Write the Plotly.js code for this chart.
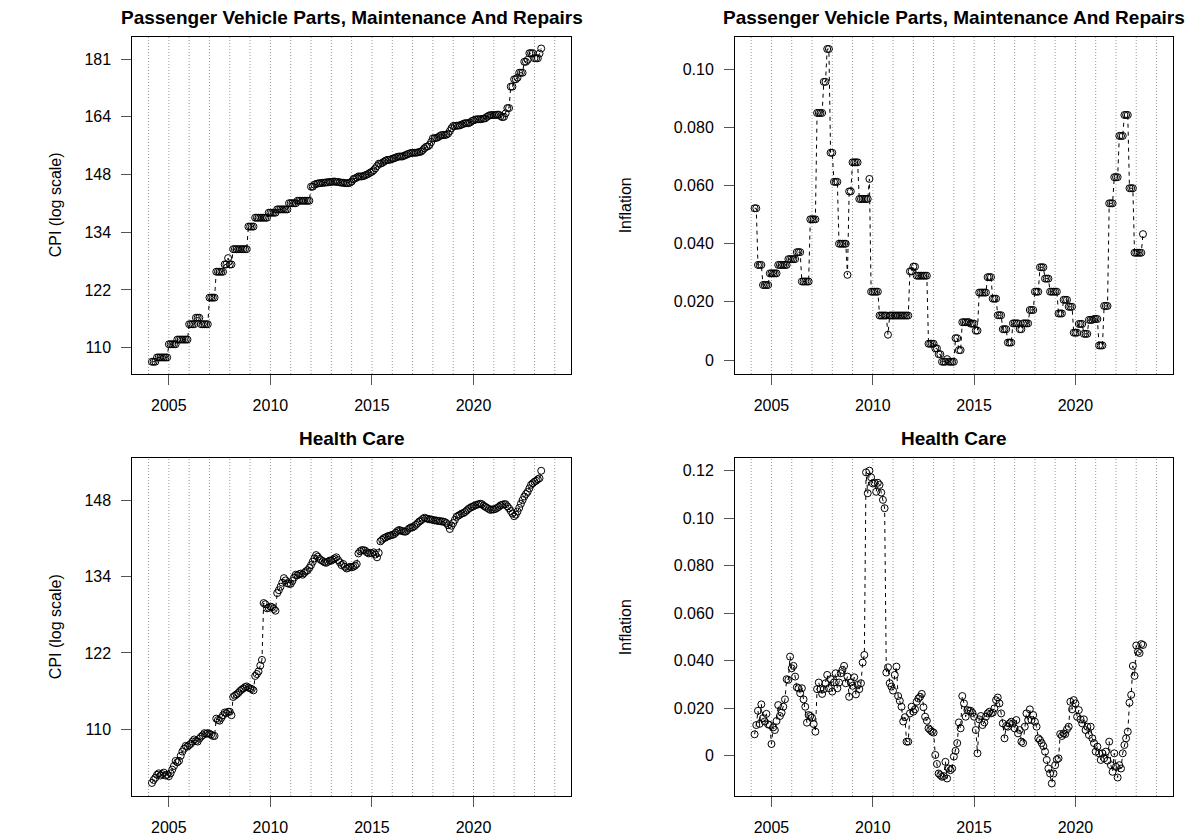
<!DOCTYPE html>
<html>
<head>
<meta charset="utf-8">
<script src="https://cdn.plot.ly/plotly-3.0.1.min.js"></script>
<style>html,body{margin:0;padding:0;background:#fff;}#chart{width:1199px;height:840px;}</style>
</head>
<body>
<div id="chart"></div>
<script>
// Monthly observations, March 2004 .. May 2023 (231 months)
const startYear = 2004, startMonth = 3, nMonths = 231;

const yearTicks = [2005, 2010, 2015, 2020];
const yearLines = [2004,2005,2006,2007,2008,2009,2010,2011,2012,2013,2014,2015,2016,2017,2018,2019,2020,2021,2022,2023,2024];

const titleVehicle = "Passenger Vehicle Parts, Maintenance And Repairs";
const titleHealth = "Health Care";
const cpiLabel = "CPI (log scale)";
const inflLabel = "Inflation";

// CPI tick values (log scale) and their labels
const vehCpiTickVals = [109.95, 121.51, 134.29, 148.41, 164.02, 181.27];
const vehCpiTickText = ["110", "122", "134", "148", "164", "181"];
const hcCpiTickVals = [109.95, 121.51, 134.29, 148.41];
const hcCpiTickText = ["110", "122", "134", "148"];
const vehInflTickVals = [0, 0.02, 0.04, 0.06, 0.08, 0.10];
const vehInflTickText = ["0", "0.020", "0.040", "0.060", "0.080", "0.10"];
const hcInflTickVals = [0, 0.02, 0.04, 0.06, 0.08, 0.10, 0.12];
const hcInflTickText = ["0", "0.020", "0.040", "0.060", "0.080", "0.10", "0.12"];

// Passenger vehicle parts, maintenance and repairs: CPI
const vehicleCPI = [
  107.3,107.3,107.3,108.1,108.1,108.1,108.1,108.1,108.1,108.1,
  110.6,110.6,110.6,110.6,110.6,111.5,111.5,111.5,111.5,111.5,111.5,111.5,
  114.5,114.5,114.5,114.5,115.8,115.8,115.8,114.5,114.5,114.5,114.5,114.5,
  119.9,119.9,119.9,119.9,125.4,125.4,125.4,125.4,125.4,127.0,127.0,128.4,
  127.0,127.0,130.4,130.4,130.4,130.4,130.4,130.4,130.4,130.4,130.4,135.6,
  135.6,135.6,135.6,137.7,137.7,137.7,137.7,137.7,137.7,137.7,137.7,138.9,
  138.9,138.9,138.9,138.9,139.7,139.7,139.7,139.7,139.7,139.7,139.7,141.2,
  141.2,141.2,141.2,141.2,141.8,141.8,141.8,141.8,141.8,141.8,141.8,141.8,
  145.3,145.3,145.8,146.0,146.1,146.2,146.2,146.3,146.3,146.4,146.4,146.5,
  146.5,146.6,146.6,146.5,146.5,146.4,146.3,146.3,146.2,146.2,146.2,146.3,
  146.6,147.2,147.4,147.6,147.9,147.9,147.9,148.0,148.2,148.4,148.6,148.9,
  149.1,149.5,150.0,150.6,151.2,151.2,151.4,151.7,152.0,152.2,152.2,152.3,
  152.5,152.6,152.8,153.0,153.1,153.1,153.1,153.3,153.5,153.7,153.9,154.0,
  154.1,154.1,154.1,154.2,154.3,154.4,154.8,155.3,155.7,155.8,156.2,157.0,
  158.0,158.0,158.1,158.3,158.6,158.9,158.9,158.9,159.0,159.3,160.0,160.8,
  161.4,161.4,161.5,161.5,161.6,161.8,162.0,162.2,162.2,162.2,162.4,162.8,
  163.0,163.2,163.3,163.3,163.3,163.4,163.5,163.6,164.0,164.3,164.5,164.5,
  164.5,164.5,164.6,164.6,164.2,163.9,164.0,165.0,166.5,166.5,172.8,172.8,
  175.0,175.0,175.5,177.0,177.0,177.0,180.4,180.4,181.0,183.1,183.1,183.1,
  181.5,181.5,181.5,183.0,184.6
];

// Passenger vehicle parts, maintenance and repairs: inflation
const vehicleInfl = [
  0.0522,0.0522,0.0327,0.0327,0.0327,0.0258,0.0258,0.0258,0.0258,0.0298,
  0.0298,0.0298,0.0298,0.0298,0.0327,0.0327,0.0327,0.0327,0.0327,0.0327,0.0347,0.0347,
  0.0347,0.0347,0.0347,0.0371,0.0371,0.0371,0.0270,0.0270,0.0270,0.0270,0.0270,0.0484,
  0.0484,0.0484,0.0484,0.0850,0.0850,0.0850,0.0850,0.0957,0.0957,0.1070,0.1070,0.0713,
  0.0713,0.0613,0.0613,0.0613,0.0400,0.0400,0.0400,0.0400,0.0400,0.0293,0.0580,0.0580,
  0.0680,0.0680,0.0680,0.0680,0.0554,0.0554,0.0554,0.0554,0.0554,0.0554,0.0623,0.0235,
  0.0235,0.0235,0.0235,0.0235,0.0153,0.0153,0.0153,0.0153,0.0153,0.0087,0.0153,0.0153,
  0.0153,0.0153,0.0153,0.0153,0.0153,0.0153,0.0153,0.0153,0.0153,0.0153,0.0305,0.0305,
  0.0321,0.0321,0.0290,0.0290,0.0290,0.0290,0.0290,0.0290,0.0290,0.0056,0.0056,0.0056,
  0.0056,0.0040,0.0040,0.0020,0.0020,-0.0006,-0.0006,-0.0006,0.0003,-0.0006,-0.0006,-0.0006,
  -0.0006,0.0075,0.0075,0.0034,0.0034,0.0130,0.0130,0.0130,0.0130,0.0130,0.0125,0.0125,
  0.0125,0.0101,0.0101,0.0232,0.0232,0.0232,0.0232,0.0232,0.0285,0.0285,0.0285,0.0211,
  0.0211,0.0211,0.0154,0.0154,0.0154,0.0106,0.0106,0.0106,0.0060,0.0060,0.0060,0.0126,
  0.0126,0.0126,0.0126,0.0106,0.0106,0.0126,0.0126,0.0126,0.0126,0.0172,0.0172,0.0172,
  0.0235,0.0235,0.0235,0.0319,0.0319,0.0319,0.0280,0.0280,0.0280,0.0235,0.0235,0.0235,
  0.0235,0.0235,0.0160,0.0160,0.0160,0.0207,0.0207,0.0207,0.0183,0.0183,0.0183,0.0094,
  0.0094,0.0094,0.0124,0.0124,0.0124,0.0090,0.0090,0.0090,0.0138,0.0138,0.0138,0.0141,
  0.0141,0.0141,0.0050,0.0050,0.0050,0.0186,0.0186,0.0186,0.0539,0.0539,0.0539,0.0629,
  0.0629,0.0629,0.0771,0.0771,0.0771,0.0843,0.0843,0.0843,0.0591,0.0591,0.0591,0.0369,
  0.0369,0.0369,0.0369,0.0369,0.0433
];

// Health care: CPI
const healthCPI = [
  102.5,102.9,103.2,103.6,103.8,103.5,103.7,103.9,103.5,103.6,
  103.4,103.8,104.3,104.8,105.5,105.3,105.5,106.2,106.8,107.2,107.6,107.5,
  107.7,107.9,108.2,108.5,108.3,108.2,108.6,108.9,109.1,109.4,109.3,109.4,
  109.3,109.2,109.0,109.0,111.5,111.3,111.2,111.6,112.0,112.4,112.3,112.5,
  112.5,112.0,114.7,114.9,115.1,115.3,115.6,115.8,116.0,116.2,116.3,116.1,
  116.0,115.9,115.7,117.9,118.2,118.6,119.5,120.4,129.7,129.5,128.8,128.9,
  129.1,129.0,128.7,128.4,131.4,131.9,132.5,133.2,134.0,133.6,133.1,133.0,
  133.0,133.5,134.1,134.6,134.5,134.7,134.8,134.6,134.9,135.2,135.4,135.8,
  136.3,136.9,137.5,138.1,137.8,137.4,137.2,137.0,136.8,136.7,136.9,137.1,
  137.1,137.3,137.5,137.7,137.2,136.8,136.3,136.5,136.0,135.7,135.8,136.0,
  135.9,136.0,136.2,136.5,138.4,138.8,139.0,139.0,138.9,138.6,138.4,138.5,
  138.4,138.6,138.2,137.7,138.5,140.6,140.9,141.2,141.3,141.5,141.6,141.7,
  141.8,141.9,142.2,142.5,142.7,142.6,142.5,142.4,142.4,142.7,143.0,143.2,
  143.2,143.4,143.7,144.0,144.3,144.5,144.8,145.0,144.9,144.8,144.7,144.7,
  144.6,144.5,144.5,144.4,144.4,144.3,144.3,144.2,144.0,143.6,142.9,143.5,
  144.0,144.6,145.2,145.4,145.6,145.8,145.9,146.1,146.4,146.7,146.9,147.1,
  147.2,147.4,147.5,147.6,147.7,147.6,147.3,147.1,146.9,146.7,146.5,146.6,
  146.6,146.7,146.9,147.1,147.4,147.5,147.6,147.6,147.2,146.8,146.3,145.8,
  145.3,145.6,146.2,146.9,147.7,148.4,149.1,149.6,150.0,150.7,151.4,151.7,
  152.0,152.2,152.5,152.7,154.2
];

// Health care: inflation
const healthInfl = [
  0.0090,0.0129,0.0189,0.0134,0.0216,0.0158,0.0144,0.0176,0.0132,0.0129,
  0.0049,0.0119,0.0108,0.0146,0.0213,0.0167,0.0181,0.0206,0.0237,0.0322,0.0319,0.0417,
  0.0368,0.0378,0.0333,0.0288,0.0284,0.0263,0.0284,0.0237,0.0206,0.0139,0.0171,0.0167,
  0.0160,0.0133,0.0101,0.0280,0.0308,0.0280,0.0260,0.0280,0.0305,0.0340,0.0284,0.0322,
  0.0270,0.0308,0.0347,0.0284,0.0308,0.0347,0.0361,0.0378,0.0305,0.0333,0.0248,0.0308,
  0.0294,0.0330,0.0258,0.0298,0.0280,0.0305,0.0392,0.0424,0.1193,0.1105,0.1200,0.1172,
  0.1146,0.1149,0.1111,0.1149,0.1140,0.1108,0.1077,0.1042,0.0350,0.0372,0.0305,0.0291,
  0.0274,0.0340,0.0375,0.0251,0.0231,0.0206,0.0144,0.0162,0.0059,0.0059,0.0178,0.0206,
  0.0185,0.0195,0.0227,0.0241,0.0248,0.0260,0.0204,0.0164,0.0147,0.0115,0.0108,0.0101,
  0.0097,0.0003,-0.0035,-0.0075,-0.0082,-0.0089,-0.0086,-0.0026,-0.0096,-0.0054,-0.0061,-0.0054,
  -0.0004,0.0020,0.0053,0.0140,0.0115,0.0251,0.0220,0.0164,0.0192,0.0189,0.0189,0.0180,
  0.0164,0.0108,0.0010,0.0153,0.0167,0.0129,0.0140,0.0164,0.0178,0.0185,0.0178,0.0181,
  0.0199,0.0234,0.0245,0.0220,0.0178,0.0136,0.0073,0.0125,0.0122,0.0136,0.0143,0.0136,
  0.0115,0.0150,0.0094,0.0108,0.0059,0.0053,0.0122,0.0178,0.0150,0.0195,0.0150,0.0171,
  0.0143,0.0122,0.0073,0.0066,0.0053,0.0040,0.0017,-0.0018,-0.0054,-0.0075,-0.0117,-0.0075,
  -0.0040,-0.0016,-0.0011,0.0091,0.0083,0.0094,0.0091,0.0111,0.0122,0.0227,0.0195,0.0234,
  0.0220,0.0164,0.0192,0.0153,0.0136,0.0153,0.0108,0.0122,0.0087,0.0122,0.0073,0.0053,
  0.0017,0.0038,0.0010,-0.0018,0.0010,-0.0011,0.0017,-0.0021,0.0059,-0.0040,-0.0068,0.0010,
  -0.0047,-0.0092,-0.0040,-0.0054,0.0010,0.0045,0.0073,0.0101,0.0223,0.0256,0.0378,0.0336,
  0.0464,0.0438,0.0432,0.0470,0.0466
];

// decimal-year time axis for the monthly observations
const t = [];
for (let i = 0; i < nMonths; i++) t.push(startYear + (startMonth - 1 + i) / 12);

const FONT = "Liberation Sans, Arial, Helvetica, sans-serif";
const W = 1199, H = 840;
const px = v => v / W;
const py = v => 1 - v / H;

function series(y, xa, ya) {
  return {
    x: t, y: y, xaxis: xa, yaxis: ya, type: "scatter", mode: "lines+markers",
    line: {color: "#000", width: 1, dash: "4px,4px"},
    marker: {symbol: "circle-open", size: 7, color: "#000", line: {width: 1, color: "#000"}},
    hoverinfo: "skip", showlegend: false
  };
}

const data = [
  series(vehicleCPI, "x", "y"),
  series(vehicleInfl, "x2", "y2"),
  series(healthCPI, "x3", "y3"),
  series(healthInfl, "x4", "y4")
];

const colL = [px(132.3), px(571)];
const colR = [px(735), px(1172.7)];
const rowT = [py(374), py(36.7)];
const rowB = [py(796), py(458.3)];

function xax(dom, anchor) {
  return {
    domain: dom, anchor: anchor, range: [2003.2, 2024.8],
    tickmode: "array", tickvals: yearTicks, ticktext: yearTicks.map(String),
    ticks: "outside", ticklen: 10, tickwidth: 1, tickcolor: "#555",
    showgrid: false, zeroline: false, showline: true, mirror: true,
    linecolor: "#000", linewidth: 1,
    tickfont: {family: FONT, size: 16, color: "#000"}, ticklabelstandoff: 7,
    fixedrange: true
  };
}
function yax(dom, anchor, opts) {
  return Object.assign({
    domain: dom, anchor: anchor,
    tickmode: "array",
    ticks: "outside", ticklen: 10, tickwidth: 1, tickcolor: "#555",
    showgrid: false, zeroline: false, showline: true, mirror: true,
    linecolor: "#000", linewidth: 1,
    tickfont: {family: FONT, size: 16, color: "#000"}, ticklabelstandoff: 7,
    fixedrange: true
  }, opts);
}

const shapes = [];
[["x","y"],["x2","y2"],["x3","y3"],["x4","y4"]].forEach(([xa, ya]) => {
  yearLines.forEach(yr => {
    shapes.push({type: "line", xref: xa, yref: ya + " domain", x0: yr, x1: yr, y0: 0, y1: 1,
      line: {color: "#9a9a9a", width: 1, dash: "1px,2px"}, layer: "below"});
  });
});

function ann(text, x, y, opts) {
  return Object.assign({text: text, xref: "paper", yref: "paper", x: x, y: y,
    xanchor: "center", yanchor: "middle", showarrow: false,
    font: {family: FONT, size: 16, color: "#000"}}, opts);
}

const titleFont = {family: FONT, size: 19, color: "#000"};
const annotations = [
  ann("<b>" + titleVehicle + "</b>", (colL[0] + colL[1]) / 2, py(17), {font: titleFont}),
  ann("<b>" + titleVehicle + "</b>", (colR[0] + colR[1]) / 2, py(17), {font: titleFont}),
  ann("<b>" + titleHealth + "</b>", (colL[0] + colL[1]) / 2, py(438.5), {font: titleFont}),
  ann("<b>" + titleHealth + "</b>", (colR[0] + colR[1]) / 2, py(438.5), {font: titleFont}),
  ann(cpiLabel, px(55), (rowT[0] + rowT[1]) / 2, {textangle: -90}),
  ann(cpiLabel, px(55), (rowB[0] + rowB[1]) / 2, {textangle: -90}),
  ann(inflLabel, px(625), (rowT[0] + rowT[1]) / 2, {textangle: -90}),
  ann(inflLabel, px(625), (rowB[0] + rowB[1]) / 2, {textangle: -90})
];

const layout = {
  width: W, height: H, autosize: false,
  margin: {l: 0, r: 0, t: 0, b: 0, pad: 0},
  paper_bgcolor: "#fff", plot_bgcolor: "#fff",
  showlegend: false,
  xaxis: xax(colL, "y"),
  xaxis2: xax(colR, "y2"),
  xaxis3: xax(colL, "y3"),
  xaxis4: xax(colR, "y4"),
  yaxis: yax(rowT, "x", {type: "log", range: [2.02138, 2.27510], tickvals: vehCpiTickVals, ticktext: vehCpiTickText}),
  yaxis2: yax(rowT, "x2", {range: [-0.004817, 0.11123], tickvals: vehInflTickVals, ticktext: vehInflTickText}),
  yaxis3: yax(rowB, "x3", {type: "log", range: [2.00331, 2.19518], tickvals: hcCpiTickVals, ticktext: hcCpiTickText}),
  yaxis4: yax(rowB, "x4", {range: [-0.01698, 0.12521], tickvals: hcInflTickVals, ticktext: hcInflTickText}),
  shapes: shapes,
  annotations: annotations
};

Plotly.newPlot("chart", data, layout, {staticPlot: true, displayModeBar: false});
</script>
</body>
</html>
